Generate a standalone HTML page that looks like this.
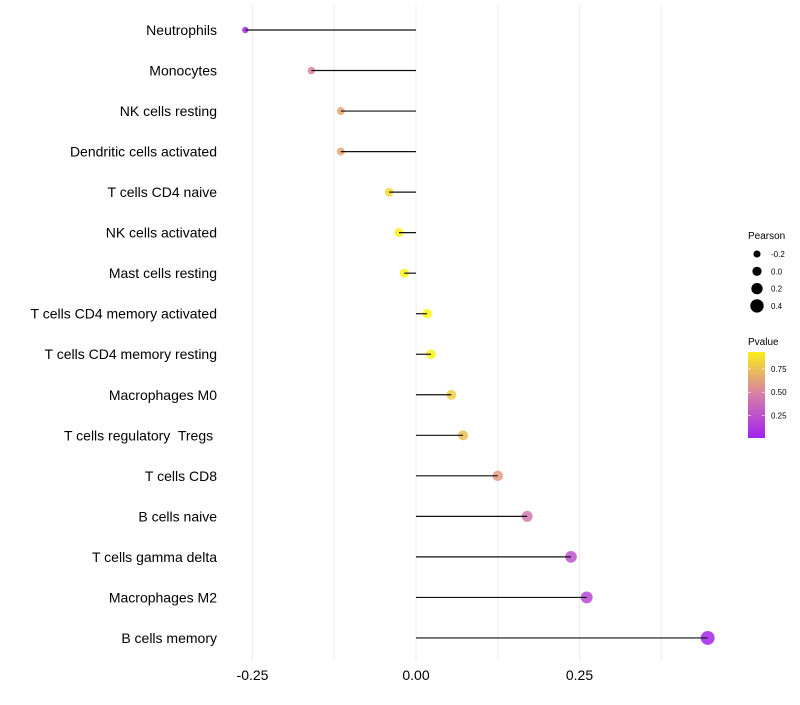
<!DOCTYPE html>
<html><head><meta charset="utf-8"><style>
body{margin:0;background:#fff;font-family:"Liberation Sans",sans-serif}
</style></head><body>
<svg id="c" width="800" height="700" xmlns="http://www.w3.org/2000/svg" font-family="Liberation Sans, sans-serif"></svg>
<script>
const categories=["Neutrophils","Monocytes","NK cells resting","Dendritic cells activated","T cells CD4 naive","NK cells activated","Mast cells resting","T cells CD4 memory activated","T cells CD4 memory resting","Macrophages M0","T cells regulatory\u00a0 Tregs\u00a0","T cells CD8","B cells naive","T cells gamma delta","Macrophages M2","B cells memory"];
const pearson=[-0.261,-0.16,-0.115,-0.115,-0.041,-0.026,-0.018,0.017,0.023,0.054,0.072,0.125,0.170,0.237,0.261,0.446];
const pvalues=[0.05,0.5,0.65,0.65,0.85,0.93,0.95,0.97,0.95,0.8,0.75,0.6,0.45,0.25,0.2,0.03];
const xTicks=[-0.25,0,0.25];
const xTickLabels=["-0.25","0.00","0.25"];
const sizeLegend=[-0.2,0,0.2,0.4];
const pLegend=[0.25,0.5,0.75];
const NS="http://www.w3.org/2000/svg",svg=document.getElementById('c');
function el(t,a,p){const e=document.createElementNS(NS,t);for(const k in a)e.setAttribute(k,a[k]);(p||svg).appendChild(e);return e;}
const x=v=>416+v*654;
const y=i=>30+i*40.53;
const r=v=>Math.max(1.8,4.6+v*5.2);
function lerp(a,b,t){return a.map((v,i)=>Math.round(v+(b[i]-v)*t));}
function col(p){const c0=[160,32,240],c1=[217,131,166],c2=[255,255,0];
 const c=p<0.5?lerp(c0,c1,p/0.5):lerp(c1,c2,(p-0.5)/0.5);return `rgb(${c})`;}
[-0.25,-0.125,0,0.125,0.25,0.375].forEach(v=>{
 const g=el('line',{x1:x(v),x2:x(v),y1:5,y2:660,stroke:'#ebebeb','stroke-width':1});
 
 
});
xTicks.forEach((v,i)=>{
 const t=el('text',{x:x(v),y:680,'text-anchor':'middle','font-size':14,fill:'#000'});t.textContent=xTickLabels[i];
 
 
});
categories.forEach((c,i)=>{
 const t=el('text',{x:217,y:y(i)+5,'text-anchor':'end','font-size':14,fill:'#000'});t.textContent=c;
 
 
 const d=el('circle',{cx:x(pearson[i]),cy:y(i),r:r(pearson[i]),fill:col(pvalues[i]),'fill-opacity':0.85});
 
 
 const l=el('line',{x1:x(0),x2:x(pearson[i]),y1:y(i),y2:y(i),stroke:'#111','stroke-width':1.2});
 
 
});
const lt=el('text',{x:748,y:239,'font-size':10,fill:'#000'});lt.textContent='Pearson';


sizeLegend.forEach((v,i)=>{
 const cy=254+i*17.3;
 const d=el('circle',{cx:757,cy:cy,r:r(v),fill:'#000'});
 
 
 const t=el('text',{x:771,y:cy+3,'font-size':8,fill:'#000'});t.textContent=v===0?'0.0':v.toString();
 
 
});
const pt=el('text',{x:748,y:345,'font-size':10,fill:'#000'});pt.textContent='Pvalue';


const defs=el('defs',{});const lg=el('linearGradient',{id:'g',x1:0,y1:1,x2:0,y2:0},defs);
[0,0.25,0.5,0.75,1].forEach(s=>{const p=0.01+s*0.92;el('stop',{offset:s,'stop-color':col(p)},lg);});
const bar=el('rect',{x:748,y:352,width:17,height:86,fill:'url(#g)'});


pLegend.forEach(p=>{
 const cy=438-(p-0.01)/0.92*86;
 el('line',{x1:748,x2:751,y1:cy,y2:cy,stroke:'#fff','stroke-width':0.6});
 el('line',{x1:762,x2:765,y1:cy,y2:cy,stroke:'#fff','stroke-width':0.6});
 const t=el('text',{x:771,y:cy+3,'font-size':8,fill:'#000'});t.textContent=p.toFixed(2);
 
 
});
</script>
</body></html>
